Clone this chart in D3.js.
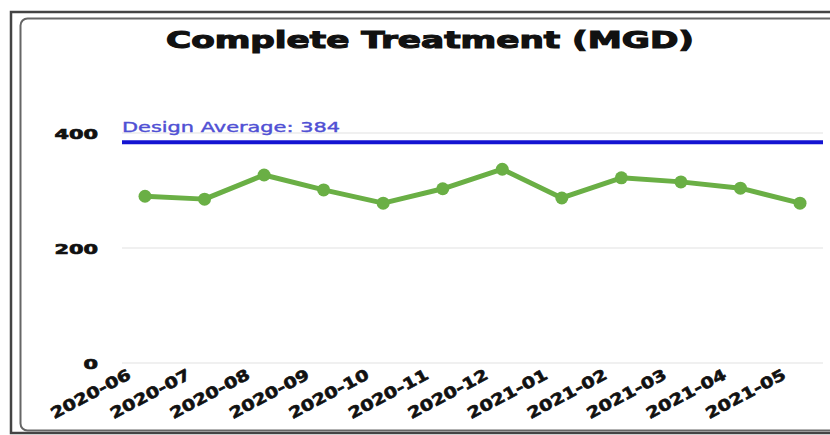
<!DOCTYPE html>
<html>
<head>
<meta charset="utf-8">
<script src="https://cdn.jsdelivr.net/npm/d3@7"></script>
<style>
  html, body { margin: 0; padding: 0; background: #fff; }
  svg { display: block; }
</style>
</head>
<body>
<svg id="chart" width="830" height="435"></svg>
<script>
const months = ["2020-06","2020-07","2020-08","2020-09","2020-10","2020-11","2020-12","2021-01","2021-02","2021-03","2021-04","2021-05"];
const treatment = [290, 285, 327, 301, 278, 303, 337, 287, 322, 315, 304, 278];
const designAverage = 384;
const yTicks = [0, 200, 400];
const title = "Complete Treatment (MGD)";

const svg = d3.select("#chart");

// frame
svg.append("rect").attr("x", 11).attr("y", 12).attr("width", 840).attr("height", 421)
  .attr("fill", "none").attr("stroke", "#444").attr("stroke-width", 2.5);
svg.append("rect").attr("x", 20.5).attr("y", 18.5).attr("width", 830).attr("height", 412)
  .attr("rx", 7).attr("fill", "#fff").attr("stroke", "#666").attr("stroke-width", 2);

const x = d3.scalePoint().domain(months).range([145, 800]);
const y = d3.scaleLinear().domain([0, 400]).range([363, 133]);
const plotLeft = 122, plotRight = 823;

// title
svg.append("text").attr("x", 166).attr("y", 48)
  .attr("textLength", 528).attr("lengthAdjust", "spacingAndGlyphs")
  .style("font-family", "DejaVu Sans").style("font-weight", "900").style("font-size", "23px")
  .attr("fill", "#111").attr("stroke", "#111").attr("stroke-width", 1.1)
  .text(title);

// gridlines
svg.append("g").selectAll("line").data(yTicks).join("line")
  .attr("x1", plotLeft).attr("x2", plotRight)
  .attr("y1", d => y(d)).attr("y2", d => y(d))
  .attr("stroke", "#ebebeb").attr("stroke-width", 1.5);

// y labels
svg.append("g").selectAll("text").data(yTicks).join("text")
  .attr("x", 98).attr("y", d => y(d) + 1)
  .attr("text-anchor", "end").attr("dominant-baseline", "central")
  .attr("textLength", d => String(d).length * 14.5).attr("lengthAdjust", "spacingAndGlyphs")
  .style("font-family", "DejaVu Sans").style("font-weight", "900").style("font-size", "14px")
  .attr("fill", "#111").attr("stroke", "#111").attr("stroke-width", 0.7)
  .text(d => d);

// x labels
svg.append("g").selectAll("text").data(months).join("text")
  .attr("transform", d => `translate(${x(d) - 13},${y(0) + 15}) rotate(-28)`)
  .attr("text-anchor", "end")
  .attr("textLength", 88).attr("lengthAdjust", "spacingAndGlyphs")
  .style("font-family", "DejaVu Sans").style("font-weight", "900").style("font-size", "15.5px")
  .attr("fill", "#111").attr("stroke", "#111").attr("stroke-width", 0.6)
  .text(d => d);

// design average
svg.append("line").attr("x1", plotLeft).attr("x2", plotRight)
  .attr("y1", y(designAverage)).attr("y2", y(designAverage))
  .attr("stroke", "#1414d2").attr("stroke-width", 4);
svg.append("text").attr("x", 122).attr("y", 132)
  .attr("textLength", 218).attr("lengthAdjust", "spacingAndGlyphs")
  .style("font-family", "DejaVu Sans").style("font-weight", "400").style("font-size", "14.5px")
  .attr("fill", "#5050d4").attr("stroke", "#5050d4").attr("stroke-width", 0.4)
  .text("Design Average: " + designAverage);

// series
const line = d3.line().x((d, i) => x(months[i])).y(d => y(d));
svg.append("path").datum(treatment).attr("d", line)
  .attr("fill", "none").attr("stroke", "#6aaf45").attr("stroke-width", 5)
  .attr("stroke-linejoin", "round");
svg.append("g").selectAll("circle").data(treatment).join("circle")
  .attr("cx", (d, i) => x(months[i])).attr("cy", d => y(d)).attr("r", 6.5)
  .attr("fill", "#6aaf45");
</script>
</body>
</html>
